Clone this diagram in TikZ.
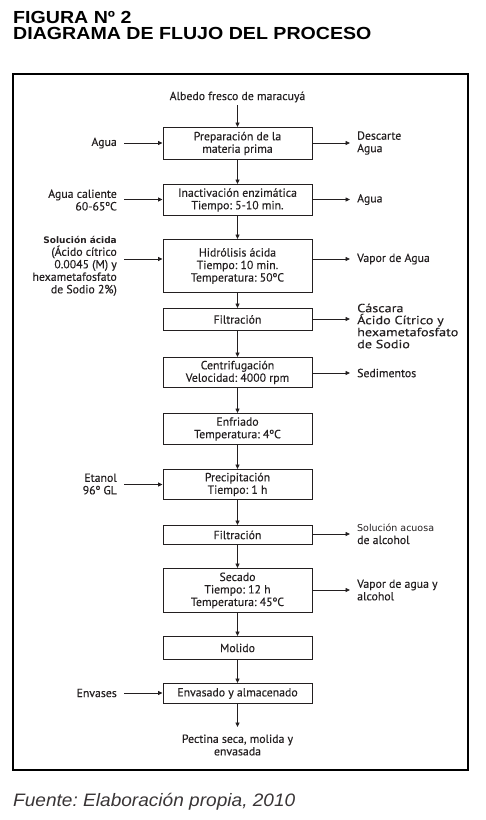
\documentclass[tikz,border=0pt]{standalone}
\usepackage{fontspec}
\setmainfont{PT Sans}[FakeBold=0.3]
\newfontfamily\widefont{PT Sans}[FakeBold=0.3, FakeStretch=1.2]
\newfontfamily\titlefont{Liberation Sans}[FakeStretch=1.12]
\newfontfamily\footfont{Liberation Sans}[FakeStretch=1.06]
\newfontfamily\smallfont{DejaVu Sans}
\usetikzlibrary{arrows.meta}
\definecolor{ink}{HTML}{231F20}
\begin{document}
\frenchspacing
\begin{tikzpicture}[x=1pt,y=-1pt,
  txt/.style={font=\fontsize{11.8}{12.5}\selectfont, text=ink},
  box/.style={txt, draw=ink, line width=0.9pt, minimum width=149pt, inner sep=1pt, align=center, anchor=north},
  lbl/.style={txt, inner sep=0pt},
  lft/.style={lbl, anchor=east, align=right},
  rgt/.style={lbl, anchor=west, align=left},
  arr/.style={draw=ink, line width=0.8pt, -{Triangle[length=4.5pt,width=4pt]}}]
\useasboundingbox (0,0) rectangle (486,820);
% title
\node[inner sep=0pt, anchor=north west, align=left, font=\titlefont\bfseries\fontsize{17.5}{16}\selectfont] (title) at (13,10.8) {FIGURA Nº 2\\DIAGRAMA DE FLUJO DEL PROCESO};
% frame
\draw[line width=2pt, draw=black] (13,74) rectangle (468,770);
% start
\node[lbl] (start) at (237.5,97) {Albedo fresco de maracuyá};
\coordinate (s0) at (237.5,105);
% boxes
\node[box, minimum height=32pt] (b1) at (237.5,127) {Preparación de la\\materia prima};
\node[box, minimum height=31pt] (b2) at (237.5,184) {Inactivación enzimática\\Tiempo: 5-10 min.};
\node[box, minimum height=53pt] (b3) at (237.5,239) {Hidrólisis ácida\\Tiempo: 10 min.\\Temperatura: 50ºC};
\node[box, minimum height=22pt] (b4) at (237.5,308) {Filtración};
\node[box, minimum height=30pt] (b5) at (237.5,357) {Centrifugación\\Velocidad: 4000 rpm};
\node[box, minimum height=31pt] (b6) at (237.5,413) {Enfriado\\Temperatura: 4ºC};
\node[box, minimum height=30pt] (b7) at (237.5,469) {Precipitación\\Tiempo: 1 h};
\node[box, minimum height=19pt] (b8) at (237.5,525) {Filtración};
\node[box, minimum height=44pt] (b9) at (237.5,568) {Secado\\Tiempo: 12 h\\Temperatura: 45ºC};
\node[box, minimum height=23pt] (b10) at (237.5,636) {Molido};
\node[box, minimum height=20pt] (b11) at (237.5,683) {Envasado y almacenado};
\node[lbl, align=center] (end) at (237.5,745) {Pectina seca, molida y\\envasada};
\coordinate (e0) at (237.5,727);
% vertical arrows
\draw[arr] (s0) -- (b1.north);
\draw[arr] (b1.south) -- (b2.north);
\draw[arr] (b2.south) -- (b3.north);
\draw[arr] (b3.south) -- (b4.north);
\draw[arr] (b4.south) -- (b5.north);
\draw[arr] (b5.south) -- (b6.north);
\draw[arr] (b6.south) -- (b7.north);
\draw[arr] (b7.south) -- (b8.north);
\draw[arr] (b8.south) -- (b9.north);
\draw[arr] (b9.south) -- (b10.north);
\draw[arr] (b10.south) -- (b11.north);
\draw[arr] (b11.south) -- (e0);
% left inputs
\node[lft] (l1) at (117,143) {Agua};
\node[lft] (l2) at (117,200) {Agua caliente\\60-65ºC};
\node[lft] (l3) at (117,266) {{\smallfont\bfseries\fontsize{9}{12.5}\selectfont Solución ácida}\\(Ácido cítrico\\0.0045 (M) y\\hexametafosfato\\de Sodio 2\%)};
\node[lft] (l7) at (117,484) {Etanol\\96º GL};
\node[lft] (l11) at (117,693) {Envases};
\coordinate (a1) at (124,143);
\coordinate (a2) at (124,199.5);
\coordinate (a3) at (124,259);
\coordinate (a7) at (124,484.5);
\coordinate (a11) at (124,693);
\draw[arr] (a1) -- (a1 -| b1.west);
\draw[arr] (a2) -- (a2 -| b2.west);
\draw[arr] (a3) -- (a3 -| b3.west);
\draw[arr] (a7) -- (a7 -| b7.west);
\draw[arr] (a11) -- (a11 -| b11.west);
% right outputs
\node[rgt] (r1) at (357,143) {Descarte\\Agua};
\node[rgt] (r2) at (357,199.5) {Agua};
\node[rgt] (r3) at (357,259) {Vapor de Agua};
\node[rgt, font=\widefont\fontsize{11.8}{12}\selectfont] (r4) at (357,326) {Cáscara\\Ácido Cítrico y\\hexametafosfato\\de Sodio};
\node[rgt] (r5) at (357,373) {Sedimentos};
\node[rgt] (r8) at (357,534) {{\smallfont\fontsize{9.5}{12.5}\selectfont Solución acuosa}\\de alcohol};
\node[rgt] (r9) at (357,590) {Vapor de agua y\\alcohol};
\coordinate (c1) at (350,143);
\coordinate (c2) at (350,199.5);
\coordinate (c3) at (350,259);
\coordinate (c4) at (350,319);
\coordinate (c5) at (350,373);
\coordinate (c8) at (350,534);
\coordinate (c9) at (350,590);
\draw[arr] (c1 -| b1.east) -- (c1);
\draw[arr] (c2 -| b2.east) -- (c2);
\draw[arr] (c3 -| b3.east) -- (c3);
\draw[arr] (c4 -| b4.east) -- (c4);
\draw[arr] (c5 -| b5.east) -- (c5);
\draw[arr] (c8 -| b8.east) -- (c8);
\draw[arr] (c9 -| b9.east) -- (c9);
% footer
\node[inner sep=0pt, anchor=base west, text=ink!90, font=\footfont\itshape\fontsize{18}{20}\selectfont] (src) at (13,806) {Fuente: Elaboración propia, 2010};
\end{tikzpicture}
\end{document}
